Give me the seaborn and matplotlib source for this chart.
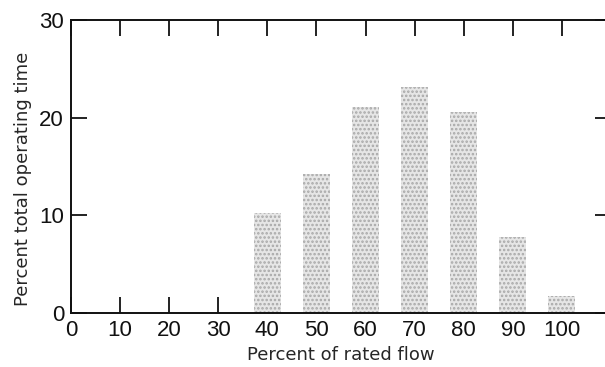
import matplotlib.pyplot as plt
import pandas as pd
import seaborn as sns

# percent of rated flow vs percent of total operating time
flow = [40, 50, 60, 70, 80, 90, 100]
pct_time = [10.2, 14.2, 21.1, 23.1, 20.6, 7.8, 1.7]
x_ticks = [0, 10, 20, 30, 40, 50, 60, 70, 80, 90, 100]
y_ticks = [0, 10, 20, 30]

df = pd.DataFrame({"flow": flow, "time": pct_time})

sns.set_style("ticks")
plt.rcParams["font.family"] = ["DejaVu Sans"]
plt.rcParams["hatch.linewidth"] = 1.2

fig = plt.figure(figsize=(6.05, 3.67), dpi=100)
ax = fig.add_axes([71 / 605, 54 / 367, 540 / 605, 293 / 367])

sns.barplot(
    data=df, x="flow", y="time", native_scale=True, width=0.55,
    color="#e6e6e6", edgecolor="#a8a8a8", linewidth=0, hatch="....",
    ax=ax,
)

ax.set_xlim(0, 110)
ax.set_ylim(0, 30)
ax.set_xticks(x_ticks)
ax.set_xticklabels([str(t) for t in x_ticks], family="Liberation Sans", fontsize=16)
ax.set_yticks(y_ticks)
ax.set_yticklabels([str(t) for t in y_ticks], family="Liberation Sans", fontsize=16)

ax.tick_params(axis="x", direction="in", length=11.5, width=1.3, top=True, pad=5, colors="#111111")
ax.tick_params(axis="y", direction="in", length=11.5, width=1.3, right=True, pad=5, colors="#111111")

for side in ["left", "top", "bottom"]:
    ax.spines[side].set_linewidth(1.4)
    ax.spines[side].set_color("#111111")
ax.spines["right"].set_visible(False)

ax.set_xlabel("Percent of rated flow", fontsize=13, labelpad=4)
ax.set_ylabel("Percent total operating time", fontsize=13)
ax.yaxis.set_label_coords(-0.073, 0.457)

fig.savefig("out.png", dpi=100)
